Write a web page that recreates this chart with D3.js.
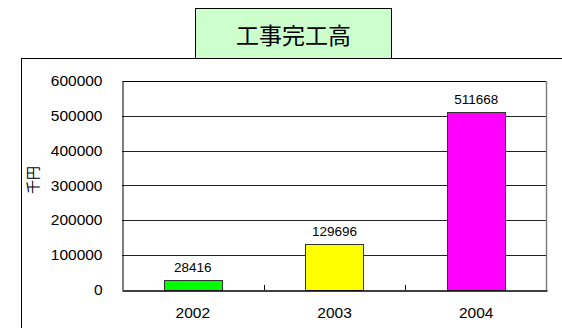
<!DOCTYPE html>
<html><head><meta charset="utf-8">
<script src="https://cdn.jsdelivr.net/npm/d3@7"></script>
<style>html,body{margin:0;padding:0;background:#fff;}svg{display:block;}</style>
</head><body>
<script>
const title = "工事完工高";
const yLabel = "千円";
const categories = ["2002", "2003", "2004"];
const values = [28416, 129696, 511668];
const colors = ["#00ff00", "#ffff00", "#ff00ff"];
const yTicks = [0, 100000, 200000, 300000, 400000, 500000, 600000];

const W = 562, H = 328;
const svg = d3.select("body").append("svg").attr("width", W).attr("height", H);
const numFont = "'Liberation Sans', Arial, sans-serif";

// outer frame
svg.append("rect").attr("x", 21.5).attr("y", 58.5).attr("width", 600).attr("height", 400)
  .attr("fill", "#fff").attr("stroke", "#000").attr("stroke-width", 1);

// title box
svg.append("rect").attr("x", 195.5).attr("y", 8.5).attr("width", 196).attr("height", 50)
  .attr("fill", "#ccffcc").attr("stroke", "#000").attr("stroke-width", 1);
svg.append("text").attr("x", 293.5).attr("y", 34).attr("text-anchor", "middle")
  .attr("dominant-baseline", "central")
  .attr("font-family", "'Noto Sans CJK JP', sans-serif").attr("font-size", 23)
  .attr("fill", "#000").text(title);

const L = 122, R = 547, T = 81, B = 289.5;
const x = d3.scaleBand().domain(categories).range([L, R]).paddingInner(0.59).paddingOuter(0.295);
const y = d3.scaleLinear().domain([0, 600000]).range([B, T]);

// gridlines
svg.append("g").selectAll("line").data(yTicks.slice(1, -1)).join("line")
  .attr("x1", L).attr("x2", R)
  .attr("y1", d => Math.round(y(d)) + 0.5).attr("y2", d => Math.round(y(d)) + 0.5)
  .attr("stroke", "#222").attr("stroke-width", 1);

// plot border
svg.append("line").attr("x1", L + 0.5).attr("x2", R - 0.5).attr("y1", T + 0.5).attr("y2", T + 0.5).attr("stroke", "#000");
svg.append("line").attr("x1", R - 0.5).attr("x2", R - 0.5).attr("y1", T).attr("y2", B + 1).attr("stroke", "#808080").attr("stroke-width", 1.5);

// bars
svg.append("g").selectAll("rect").data(values).join("rect")
  .attr("x", (d, i) => Math.round(x(categories[i])) + 0.5)
  .attr("width", Math.round(x.bandwidth()))
  .attr("y", d => Math.round(y(d)) + 0.5)
  .attr("height", d => Math.round(B) - Math.round(y(d)))
  .attr("fill", (d, i) => colors[i]).attr("stroke", "#333").attr("stroke-width", 1);

// value labels
svg.append("g").selectAll("text").data(values).join("text")
  .attr("x", (d, i) => x(categories[i]) + x.bandwidth() / 2)
  .attr("y", d => y(d) - 8)
  .attr("text-anchor", "middle").attr("font-family", numFont).attr("font-size", 13.5)
  .attr("fill", "#000").text(d => d);

// y axis
const yAxis = d3.axisLeft(y).tickValues(yTicks).tickSize(0).tickPadding(20).tickFormat(d3.format("d"));
const gy = svg.append("g").attr("transform", `translate(${L + 0.5},0)`).call(yAxis);
gy.select(".domain").attr("stroke", "#000");
gy.selectAll("text").attr("font-family", numFont).attr("font-size", 15.5).attr("fill", "#000");

// x axis
const xAxis = d3.axisBottom(x).tickSize(0).tickPadding(16);
const gx = svg.append("g").attr("transform", `translate(0,${Math.round(B) + 0.5})`).call(xAxis);
gx.select(".domain").attr("stroke", "#000").attr("stroke-width", 1.5);
gx.selectAll("text").attr("font-family", numFont).attr("font-size", 15.5).attr("fill", "#000");
// category boundary ticks (inside)
svg.append("g").selectAll("line").data(categories.slice(1)).join("line")
  .attr("x1", d => Math.round(x(d) - x.step() * x.paddingInner() / 2) + 0.5)
  .attr("x2", d => Math.round(x(d) - x.step() * x.paddingInner() / 2) + 0.5)
  .attr("y1", Math.round(B) - 5).attr("y2", Math.round(B))
  .attr("stroke", "#000");

// y label
svg.append("text").attr("transform", "translate(32,180) rotate(-90)")
  .attr("text-anchor", "middle").attr("dominant-baseline", "central")
  .attr("font-family", "'Noto Sans CJK JP', sans-serif").attr("font-size", 14)
  .attr("fill", "#000").text(yLabel);
</script>
</body></html>
